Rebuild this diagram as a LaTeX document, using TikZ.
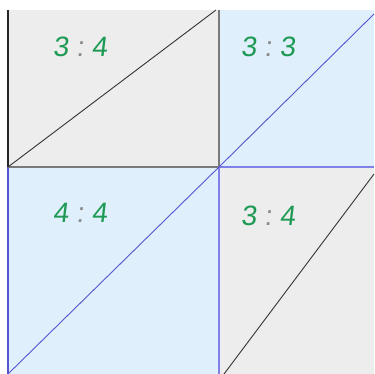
\documentclass[tikz,border=0pt]{standalone}
\usepackage{fontspec}
\setmainfont{Liberation Sans}
\newfontfamily\ratiofont[FakeSlant=0.12]{Liberation Sans}
\definecolor{greyfill}{HTML}{EDEDED}
\definecolor{bluefill}{HTML}{DFEFFB}
\definecolor{txtgreen}{HTML}{1E9A55}
\definecolor{colongrey}{HTML}{8A8A8A}
\definecolor{edgeblue}{HTML}{8080E8}
\definecolor{diagblue}{HTML}{5555D0}
\definecolor{edgegrey}{HTML}{7A7A7A}
\tikzset{
  ratio/.style={font=\ratiofont\fontsize{28}{30}\selectfont, text=txtgreen, inner sep=0pt},
  greyline/.style={draw=edgegrey, line width=1.4pt},
  blueline/.style={draw=edgeblue, line width=1.4pt},
  diagb/.style={draw=diagblue, line width=0.9pt},
  diagk/.style={draw=black!80, line width=0.9pt}
}
\newcommand{\ratiotext}[2]{#1\ {\color{colongrey}:}\ #2}
\begin{document}
\begin{tikzpicture}[x=1pt,y=1pt]
\useasboundingbox (0,0) rectangle (374,374);
\fill[white] (0,0) rectangle (374,374);
% fills
\fill[greyfill] (8,207) rectangle (219,364);
\fill[bluefill] (219,207) rectangle (374,364);
\fill[bluefill] (8,0) rectangle (219,207);
\fill[greyfill] (219,0) rectangle (374,207);
% grid lines
\draw[draw=black!85, line width=1.3pt] (8,364) -- (8,207);
\draw[draw=diagblue, line width=1.3pt] (8,207) -- (8,0);
\draw[greyline] (219,364) -- (219,207);
\draw[greyline] (8,207) -- (219,207);
\draw[blueline] (219,207) -- (374,207);
\draw[blueline] (219,207) -- (219,0);
% diagonals
\draw[diagk] (8,207) -- (216,364);
\draw[diagb] (219,207) -- (374,360);
\draw[diagb] (8,0) -- (219,207);
\draw[diagk] (224,0) -- (374,200);
% labels
\node[ratio] (tl) at (80,327) {\ratiotext{3}{4}};
\node[ratio] (tr) at (268,327) {\ratiotext{3}{3}};
\node[ratio] (bl) at (80,161) {\ratiotext{4}{4}};
\node[ratio] (br) at (268,158) {\ratiotext{3}{4}};
\end{tikzpicture}
\end{document}
